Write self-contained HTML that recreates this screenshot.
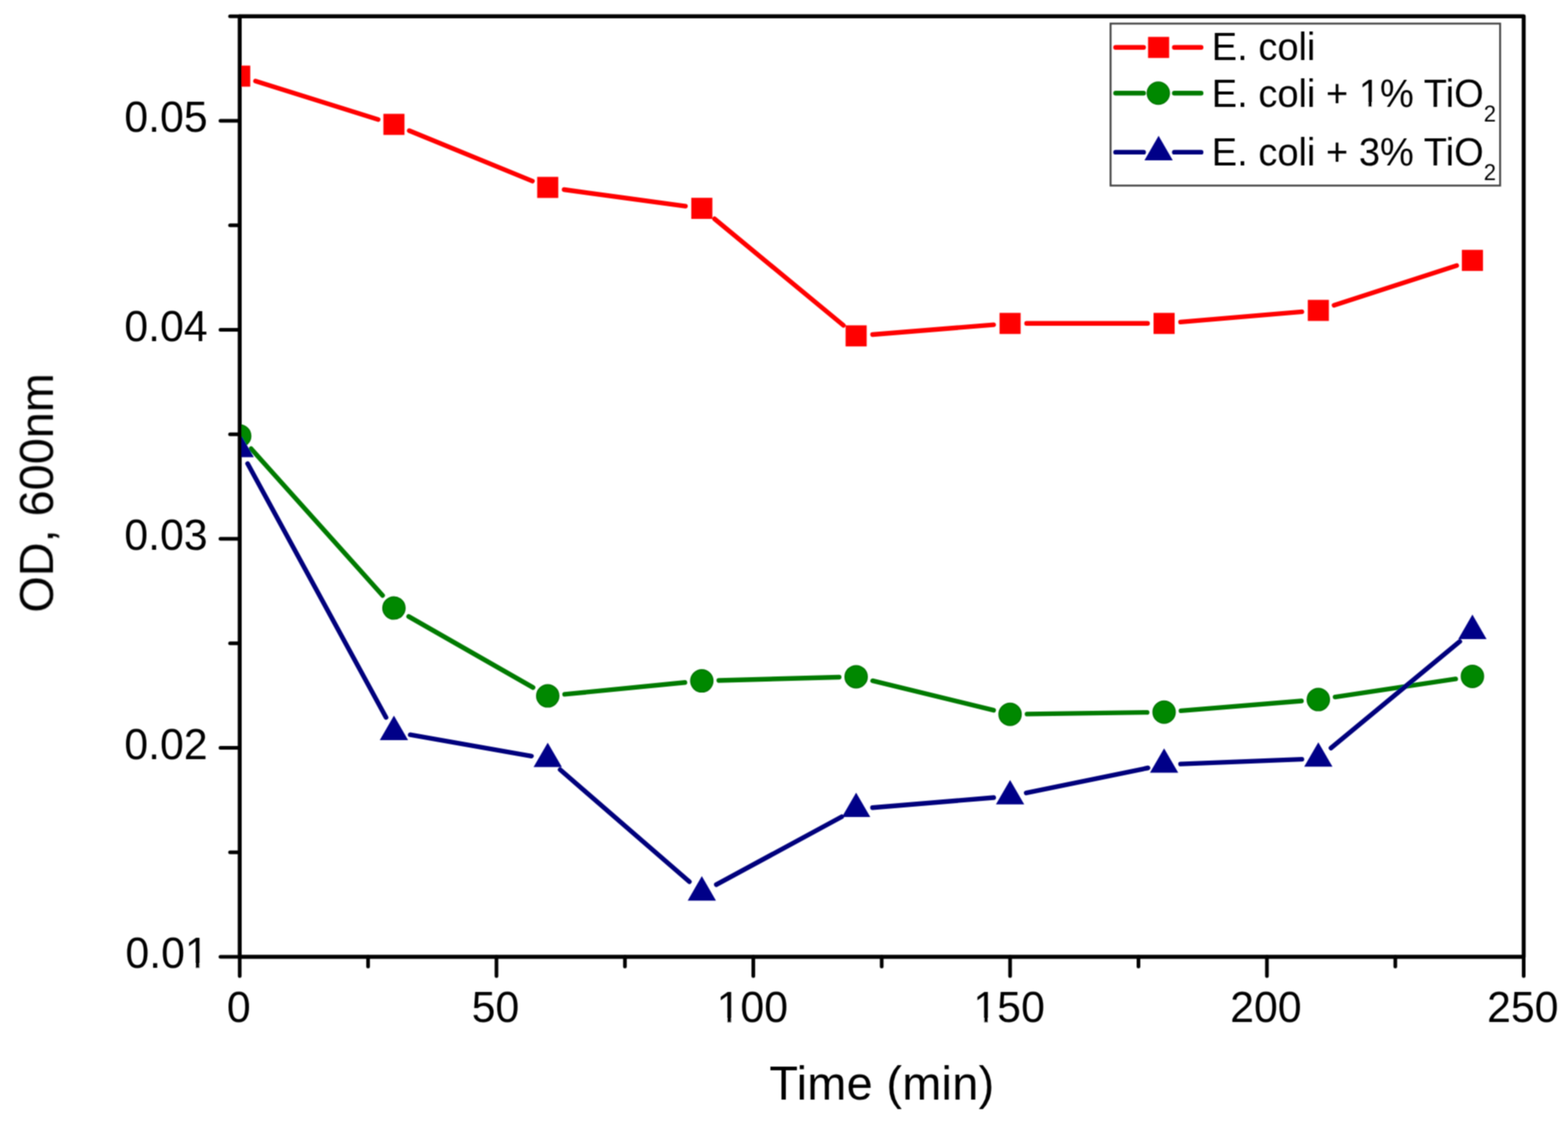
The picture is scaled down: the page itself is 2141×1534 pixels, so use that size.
<!DOCTYPE html>
<html><head><meta charset="utf-8"><title>OD vs Time</title>
<style>
html,body{margin:0;padding:0;background:#fff;}
body{width:2141px;height:1534px;overflow:hidden;}
svg{display:block;}
text{font-family:'Liberation Sans', Arial, sans-serif;fill:#000;}
</style></head><body>
<svg width="2141" height="1534" viewBox="0 0 2141 1534">
<rect width="2141" height="1534" fill="#fff"/>
<defs><filter id="bl" x="0" y="0" width="2141" height="1534" filterUnits="userSpaceOnUse"><feConvolveMatrix order="3" kernelMatrix="1 2 1 2 4 2 1 2 1" divisor="16" edgeMode="duplicate"/></filter><clipPath id="pc"><rect x="327.3" y="22.2" width="1753.2" height="1284.8"/></clipPath></defs>
<g filter="url(#bl)">

<g clip-path="url(#pc)">
<path d="M348.9 110.7L516.3 163.2M558.8 178.5L727.0 247.4M770.3 259.0L935.9 281.6M975.7 299.0L1151.6 444.4M1191.5 457.0L1356.7 443.6M1401.8 441.8L1566.9 441.8M1612.0 439.9L1777.6 425.9M1821.6 417.0L1989.0 362.7" stroke="#ff0000" stroke-width="6.4" stroke-linecap="round" fill="none"/>
<rect x="312.9" y="89.6" width="28.8" height="28.8" fill="#ff0000"/>
<rect x="523.5" y="155.5" width="28.8" height="28.8" fill="#ff0000"/>
<rect x="733.5" y="241.6" width="28.8" height="28.8" fill="#ff0000"/>
<rect x="943.9" y="270.2" width="28.8" height="28.8" fill="#ff0000"/>
<rect x="1154.6" y="444.4" width="28.8" height="28.8" fill="#ff0000"/>
<rect x="1364.8" y="427.4" width="28.8" height="28.8" fill="#ff0000"/>
<rect x="1575.1" y="427.4" width="28.8" height="28.8" fill="#ff0000"/>
<rect x="1785.7" y="409.6" width="28.8" height="28.8" fill="#ff0000"/>
<rect x="1996.1" y="341.3" width="28.8" height="28.8" fill="#ff0000"/>
<path d="M342.8 612.8L522.4 813.3M558.0 842.1L727.8 939.1M771.0 948.4L935.2 932.3M981.5 929.5L1145.8 925.0M1191.5 929.9L1356.7 970.2M1402.4 975.4L1566.3 973.1M1612.6 970.9L1777.0 957.5M1823.0 952.1L1987.6 927.4" stroke="#007a00" stroke-width="6.4" stroke-linecap="round" fill="none"/>
<circle cx="327.3" cy="595.5" r="15.20" fill="#008800" stroke="#007400" stroke-width="1.6"/>
<circle cx="537.9" cy="830.6" r="15.20" fill="#008800" stroke="#007400" stroke-width="1.6"/>
<circle cx="747.9" cy="950.6" r="15.20" fill="#008800" stroke="#007400" stroke-width="1.6"/>
<circle cx="958.3" cy="930.1" r="15.20" fill="#008800" stroke="#007400" stroke-width="1.6"/>
<circle cx="1169.0" cy="924.4" r="15.20" fill="#008800" stroke="#007400" stroke-width="1.6"/>
<circle cx="1379.2" cy="975.7" r="15.20" fill="#008800" stroke="#007400" stroke-width="1.6"/>
<circle cx="1589.5" cy="972.8" r="15.20" fill="#008800" stroke="#007400" stroke-width="1.6"/>
<circle cx="1800.1" cy="955.6" r="15.20" fill="#008800" stroke="#007400" stroke-width="1.6"/>
<circle cx="2010.5" cy="923.9" r="15.20" fill="#008800" stroke="#007400" stroke-width="1.6"/>
<path d="M338.1 633.3L527.1 980.0M560.1 1003.7L725.7 1032.8M764.9 1051.4L941.3 1204.4M978.1 1208.4L1149.2 1115.7M1191.4 1103.2L1356.8 1089.5M1401.2 1083.2L1567.5 1049.0M1612.0 1043.6L1777.6 1037.1M1817.4 1021.8L1993.2 876.3" stroke="#00007c" stroke-width="6.4" stroke-linecap="round" fill="none"/>
<path d="M327.3 591.2L346.6 624.6L308.0 624.6Z" fill="#000088"/>
<path d="M537.9 977.5L557.2 1010.9L518.6 1010.9Z" fill="#000088"/>
<path d="M747.9 1014.4L767.2 1047.8L728.6 1047.8Z" fill="#000088"/>
<path d="M958.3 1196.8L977.6 1230.2L939.0 1230.2Z" fill="#000088"/>
<path d="M1169.0 1082.7L1188.3 1116.1L1149.7 1116.1Z" fill="#000088"/>
<path d="M1379.2 1065.4L1398.5 1098.8L1359.9 1098.8Z" fill="#000088"/>
<path d="M1589.5 1022.2L1608.8 1055.6L1570.2 1055.6Z" fill="#000088"/>
<path d="M1800.1 1013.9L1819.4 1047.3L1780.8 1047.3Z" fill="#000088"/>
<path d="M2010.5 839.6L2029.8 873.0L1991.2 873.0Z" fill="#000088"/>
</g>
<path d="M327.3 22.2H2080.5V1307.0H327.3Z" stroke="#000" stroke-width="5.4" fill="none" stroke-linejoin="round"/>
<path d="M327.3 1307.0V1333.3M502.6 1307.0V1320.2M677.9 1307.0V1333.3M853.3 1307.0V1320.2M1028.6 1307.0V1333.3M1203.9 1307.0V1320.2M1379.2 1307.0V1333.3M1554.5 1307.0V1320.2M1729.9 1307.0V1333.3M1905.2 1307.0V1320.2M2080.5 1307.0V1333.3M327.3 1307.0H301.0M327.3 1164.2H314.1M327.3 1021.5H301.0M327.3 878.8H314.1M327.3 736.0H301.0M327.3 593.2H314.1M327.3 450.5H301.0M327.3 307.7H314.1M327.3 165.0H301.0M327.3 22.2H314.1" stroke="#000" stroke-width="5.0" stroke-linecap="round" fill="none"/>
<text x="326.0" y="1396.5" font-size="58.5" text-anchor="middle" transform="matrix(1 0 0 1.025 0 -34.912)">0</text>
<text x="676.6" y="1396.5" font-size="58.5" text-anchor="middle" transform="matrix(1 0 0 1.025 0 -34.912)">50</text>
<text x="1027.3" y="1396.5" font-size="58.5" text-anchor="middle" transform="matrix(1 0 0 1.025 0 -34.912)">100</text>
<text x="1377.9" y="1396.5" font-size="58.5" text-anchor="middle" transform="matrix(1 0 0 1.025 0 -34.912)">150</text>
<text x="1728.6" y="1396.5" font-size="58.5" text-anchor="middle" transform="matrix(1 0 0 1.025 0 -34.912)">200</text>
<text x="2079.2" y="1396.5" font-size="58.5" text-anchor="middle" transform="matrix(1 0 0 1.025 0 -34.912)">250</text>
<text x="285.0" y="1322.2" font-size="58.5" text-anchor="end" transform="matrix(1 0 0 1.025 0 -33.055)">0.01</text>
<text x="283.5" y="1036.7" font-size="58.5" text-anchor="end" transform="matrix(1 0 0 1.025 0 -25.917)">0.02</text>
<text x="283.5" y="751.2" font-size="58.5" text-anchor="end" transform="matrix(1 0 0 1.025 0 -18.780)">0.03</text>
<text x="283.5" y="465.7" font-size="58.5" text-anchor="end" transform="matrix(1 0 0 1.025 0 -11.642)">0.04</text>
<text x="283.5" y="180.2" font-size="58.5" text-anchor="end" transform="matrix(1 0 0 1.025 0 -4.505)">0.05</text>
<text x="1050.6" y="1502.2" font-size="64" textLength="306.9" lengthAdjust="spacing">Time (min)</text>
<text transform="translate(72.3 673.4) rotate(-90)" x="0" y="0" font-size="64" text-anchor="middle">OD, 600nm</text>
<rect x="1516.4" y="32.2" width="531.9" height="221.3" fill="none" stroke="#444" stroke-width="2.6"/>
<path d="M1523.3 64.8H1561.5M1603.5 64.8H1640" stroke="#ff0000" stroke-width="6.4" stroke-linecap="round"/>
<rect x="1567.6" y="50.4" width="28.8" height="28.8" fill="#ff0000"/>
<text x="1654.6" y="81.7" font-size="52" transform="matrix(1 0 0 1.045 0 -3.676)">E. coli</text>
<path d="M1523.3 127.2H1561.5M1603.5 127.2H1640" stroke="#007a00" stroke-width="6.4" stroke-linecap="round"/>
<circle cx="1581.6" cy="127.2" r="15.20" fill="#008800" stroke="#007400" stroke-width="1.6"/>
<text x="1654.6" y="145.8" font-size="52" transform="matrix(1 0 0 1.045 0 -6.561)">E. coli + 1% TiO<tspan font-size="30" dy="19.0">2</tspan></text>
<path d="M1523.3 207.9H1561.5M1603.5 207.9H1640" stroke="#00007c" stroke-width="6.4" stroke-linecap="round"/>
<path d="M1582.0 185.6L1601.3 219.0L1562.7 219.0Z" fill="#000088"/>
<text x="1654.6" y="226.0" font-size="52" transform="matrix(1 0 0 1.045 0 -10.170)">E. coli + 3% TiO<tspan font-size="30" dy="19.0">2</tspan></text>
<path d="M981 1391H1010V1398.0H981ZM1332 1391H1360V1398.0H1332ZM255 1316H284V1324.0H255ZM1858 140H1883V147.0H1858Z" fill="#fff"/>
<path d="M993.218 1391H998.388V1396.501H993.218ZM1343.818 1391H1348.988V1396.501H1343.818ZM267.167 1316H272.337V1322.200H267.167ZM1868.499 140H1873.094V145.800H1868.499Z" fill="#000"/>
</g></svg></body></html>
